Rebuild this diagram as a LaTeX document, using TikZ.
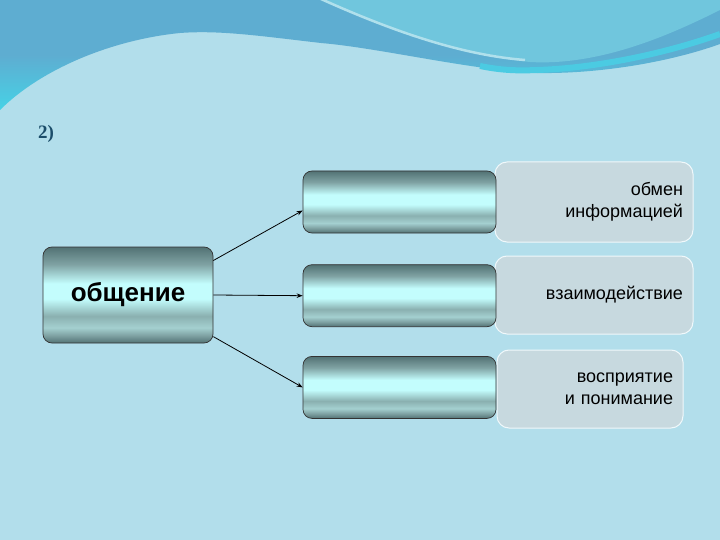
\documentclass[tikz,border=0pt]{standalone}
\usepackage{fontspec}
\setmainfont{Liberation Sans}
\newfontfamily\numfont{Liberation Serif}
\usepackage{xcolor}
\usepackage{tikz}
\usetikzlibrary{arrows.meta,positioning}

\definecolor{sky}{HTML}{B2DEEB}
\definecolor{wavetop}{HTML}{5EADD1}
\definecolor{wavecyan}{HTML}{46D2E6}
\definecolor{blob}{HTML}{70C6DD}
\definecolor{notefill}{HTML}{C7D9DF}
\definecolor{numcol}{HTML}{1B4D6A}
\definecolor{tubedark}{HTML}{527274}
\definecolor{tubegray}{HTML}{7FA2A3}
\definecolor{tubelight}{HTML}{C3FDFD}
\definecolor{tubeband}{HTML}{8AB0B0}
\definecolor{tubelow}{HTML}{A4D0D0}
\pgfdeclareverticalshading{tubeshade}{100bp}{%
  color(0bp)=(tubedark); color(25bp)=(tubedark); color(29bp)=(tubegray);
  color(33bp)=(tubelow); color(39bp)=(tubeband); color(48bp)=(tubelight);
  color(56bp)=(tubelight); color(66bp)=(tubegray); color(75bp)=(tubedark);
  color(100bp)=(tubedark)}

\begin{document}
\begin{tikzpicture}[x=1pt, y=-1pt,
	tube/.style={draw=black!80, line width=0.7pt, rounded corners=9pt, shade, shading=tubeshade},
	note/.style={draw=white!80!sky, line width=1pt, fill=notefill, rounded corners=12pt,
		inner sep=10pt, align=right, font=\fontsize{18}{21.6}\selectfont},
	link/.style={-{Stealth[length=6pt,width=4.5pt]}, line width=0.8pt, black}]
	\useasboundingbox (0,0) rectangle (720,540);
	\clip (0,0) rectangle (720,540);
	% background
	\fill[sky] (0,0) rectangle (720,540);
	\shade[top color=wavetop, bottom color=wavecyan, middle color=wavetop]
		(0,0) -- (720,0) -- (720,44) .. controls (670,62) and (600,74) .. (537,73)
		.. controls (470,70) and (380,48) .. (321,43) .. controls (260,36) and (220,30) .. (180,33)
		.. controls (110,40) and (40,70) .. (0,110) -- cycle;
	\draw[wavecyan!80!wavetop, line width=6pt] (480,66) .. controls (500,70) and (515,71) .. (537,70)
		.. controls (600,68) and (670,52) .. (720,34);
	\fill[blob] (321,0) .. controls (390,30) and (460,55) .. (530,62)
		.. controls (600,66) and (670,35) .. (720,10) -- (720,0) -- cycle;
	\draw[white!45!blob, line width=2.5pt] (321,-1) .. controls (390,30) and (460,55) .. (525,60);
	\node[font=\numfont\bfseries\fontsize{19}{22}\selectfont, text=numcol] (num) at (46,134) {2)};
	% right column
	\node[note, minimum width=198pt, minimum height=80pt, text width=178pt] (n1) at (594,202) {обмен\\информацией};
	\node[note, minimum width=198pt, minimum height=78pt, text width=178pt] (n2) at (594,295) {взаимодействие};
	\node[note, minimum width=186pt, minimum height=78pt, text width=166pt] (n3) at (590,389) {восприятие\\и понимание};
	% middle column
	\node[tube, minimum width=193pt, minimum height=62pt] (b1) at (399.5,202) {};
	\node[tube, minimum width=193pt, minimum height=62pt, below=31pt of b1] (b2) {};
	\node[tube, minimum width=193pt, minimum height=62pt, below=29pt of b2] (b3) {};
	% root
	\node[tube, minimum width=170pt, minimum height=96pt, font=\bfseries\fontsize{26}{30}\selectfont] (talk) at (128,295) {общение};
	\draw[link] (talk.22) -- (b1.185);
	\draw[link] (talk.east) -- (b2.west);
	\draw[link] (talk.-26) -- (b3.west);
\end{tikzpicture}
\end{document}
